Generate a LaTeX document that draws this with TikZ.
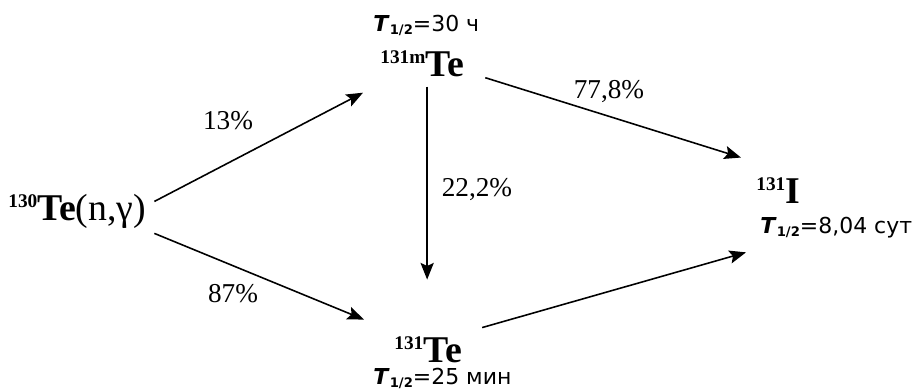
\documentclass[tikz,border=0pt]{standalone}
\usepackage{fontspec}
\setmainfont{Liberation Serif}
\newfontfamily\verdfont{DejaVu Sans}
\usetikzlibrary{arrows.meta, calc}

% nuclide: mass number + symbol
\newcommand{\nucl}[2]{{\fontsize{11}{11}\selectfont\bfseries\raisebox{7pt}{#1}}{\fontsize{21.5}{21.5}\selectfont\bfseries #2}}
% half-life line
\newcommand{\thalf}[1]{{\verdfont\fontsize{12.5}{12.5}\selectfont\textbf{\textit{T}}\raisebox{-1.8pt}{\fontsize{7.5}{7.5}\selectfont\bfseries 1/2}=#1}}

\begin{document}
\begin{tikzpicture}[x=0.02cm, y=-0.02cm,
  nuc/.style={inner sep=0pt, anchor=base west},
  pct/.style={inner sep=0pt, font=\fontsize{15.5}{15.5}\selectfont},
  decay/.style={line width=0.9pt, -{Stealth[length=9.5pt, width=7.5pt, inset=1.8pt]}}]
  \useasboundingbox (0,0) rectangle (913,390);

  % nuclides
  \node[nuc] (te130) at (8,220) {\nucl{130}{Te}{\fontsize{21.5}{21.5}\selectfont(n,γ)}};
  \node[nuc] (te131m) at (380,76) {\nucl{131m}{Te}};
  \node[nuc] (te131) at (394,362) {\nucl{131}{Te}};
  \node[nuc] (i131) at (756,203) {\nucl{131}{I}};

  % half-lives
  \node[nuc] (t131m) at (373,31) {\thalf{30 ч}};
  \node[nuc] (t131) at (373,384) {\thalf{25 мин}};
  \node[nuc] (ti131) at (760,233) {\thalf{8,04 сут}};

  % decay arrows
  \draw[decay] ([shift={(8,8)}]te130.north east) -- ([shift={(-17,16)}]te131m.south west);
  \draw[decay] ([shift={(8,5)}]te130.south east) -- ([shift={(-30,-17)}]te131.north west);
  \draw[decay] ([shift={(5,10)}]te131m.south) -- ([shift={(5,-57)}]te131m.south |- te131.north);
  \draw[decay] ([shift={(21,1)}]te131m.south east) -- ([shift={(-15,-20)}]i131.north west);
  \draw[decay] ([shift={(20,-9)}]te131.north east) -- ([shift={(-10,49)}]i131.south west);

  % branching ratios
  \node[pct] (p13) at (228,121) {13\%};
  \node[pct] (p87) at (233,294) {87\%};
  \node[pct] (p222) at (477,190) {22,2\%};
  \node[pct] (p778) at (609,92) {77,8\%};
\end{tikzpicture}
\end{document}
